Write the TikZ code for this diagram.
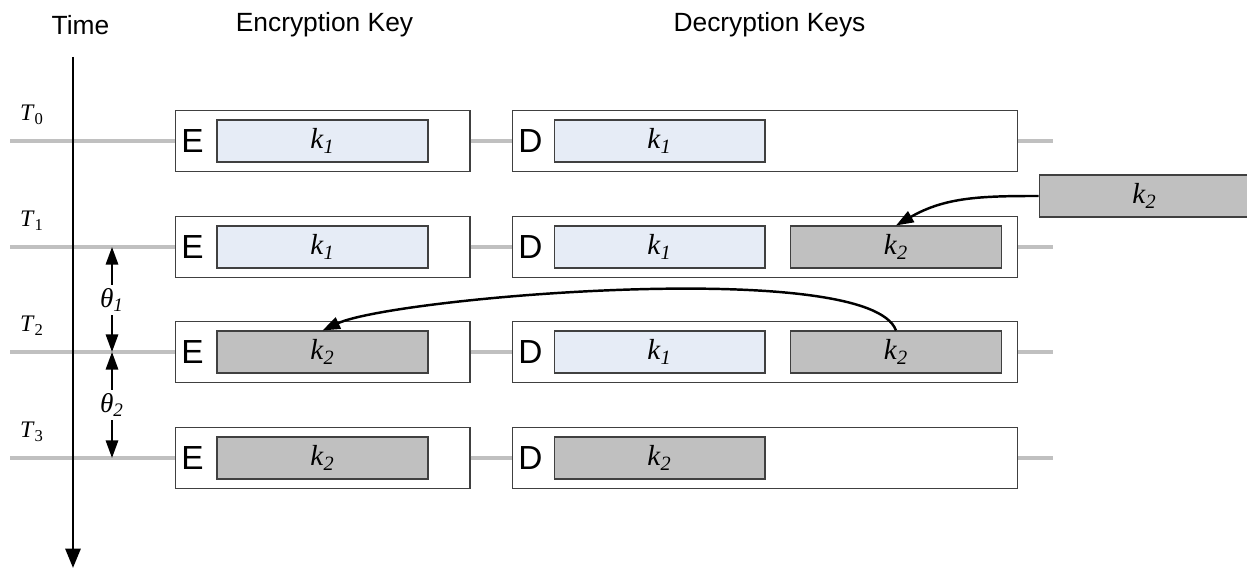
\documentclass[tikz,border=0pt]{standalone}
\usepackage{fontspec}
\setmainfont{Liberation Serif}
\setsansfont{Liberation Sans}
\usetikzlibrary{arrows.meta}
\definecolor{keyold}{RGB}{230,236,246}
\definecolor{keynew}{RGB}{192,192,192}
\definecolor{rowline}{RGB}{192,192,192}
\newcommand{\kname}[2]{\textit{#1}\textsubscript{\textit{#2}}}

\begin{document}
\begin{tikzpicture}[x=0.02cm,y=0.02cm,
  header/.style={font=\sffamily\fontsize{15}{18}\selectfont},
  letter/.style={font=\sffamily\fontsize{19}{22}\selectfont,inner sep=0pt},
  outerbox/.style={draw=black!75,fill=white,line width=0.6pt,minimum height=1.22cm,inner sep=0pt},
  keybox/.style={draw=black!75,line width=0.6pt,minimum width=4.22cm,minimum height=0.84cm,
    inner sep=0pt,font=\fontsize{16.5}{19}\selectfont},
  rowlink/.style={draw=rowline,line width=1.8pt},
  move/.style={line width=1.4pt,-{Triangle[length=10pt,width=7pt]}},
  period/.style={line width=1.2pt,-{Triangle[length=10pt,width=7pt]}}]
  \useasboundingbox (0,0) rectangle (1247,570);

  % column titles
  \node[header] (time) at (80.5,545) {Time};
  \node[header] (enc) at (324.5,545) {Encryption Key};
  \node[header] (dec) at (769.5,545) {Decryption Keys};

  % one row per instant: E box, D box and the first key slot of each
  \foreach \r/\y/\ek/\ec/\dk/\dc in {0/429/1/keyold/1/keyold,1/323/1/keyold/1/keyold,
                                    2/218/2/keynew/1/keyold,3/112/2/keynew/2/keynew} {
    \coordinate (l\r) at (10,\y);
    \coordinate (r\r) at (1053,\y);
    \node[outerbox,minimum width=5.9cm] (eb\r) at (322.5,\y) {};
    \node[outerbox,minimum width=10.12cm] (db\r) at (765,\y) {};
    \draw[rowlink] (l\r) -- (eb\r.west);
    \draw[rowlink] (eb\r.east) -- (db\r.west);
    \draw[rowlink] (db\r.east) -- (r\r);
    \node[letter] (el\r) at (192.5,\y) {E};
    \node[letter] (dl\r) at (530.5,\y) {D};
    \node[keybox,fill=\ec] (ek\r) at (322.5,\y) {\kname{k}{\ek}};
    \node[keybox,fill=\dc] (dka\r) at (659.5,\y) {\kname{k}{\dk}};
    \node[font=\fontsize{13.5}{16}\selectfont] (t\r) at (32,\y+26) {\textit{T}\textsubscript{\r}};
  }

  % second decryption slot
  \node[keybox,fill=keynew] (dkb1) at (896,323) {\kname{k}{2}};
  \node[keybox,fill=keynew] (dkb2) at (896,218) {\kname{k}{2}};

  % new key coming in
  \node[keybox,fill=keynew] (fk) at (1144.5,374) {\kname{k}{2}};
  \draw[move] (fk.west) to[out=180,in=30] (dkb1.north);
  \draw[move] (dkb2.north) to[out=110,in=25,looseness=0.35] (ek2.north);

  % time axis
  \coordinate (ttop) at (73,513);
  \coordinate (tbot) at (73,2);
  \draw[line width=1.7pt,-{Triangle[length=11pt,width=8.5pt]}] (ttop) -- (tbot);

  % periods between rows
  \coordinate (m1) at (112,323);
  \coordinate (m2) at (112,218);
  \coordinate (m3) at (112,112);
  \node[font=\fontsize{15.5}{18}\selectfont,inner sep=2pt] (th1) at (112,270) {\kname{θ}{1}};
  \node[font=\fontsize{15.5}{18}\selectfont,inner sep=2pt] (th2) at (112,165) {\kname{θ}{2}};
  \draw[period] (th1.north) -- (m1);
  \draw[period] (th1.south) -- (m2);
  \draw[period] (th2.north) -- (m2);
  \draw[period] (th2.south) -- (m3);
\end{tikzpicture}
\end{document}
